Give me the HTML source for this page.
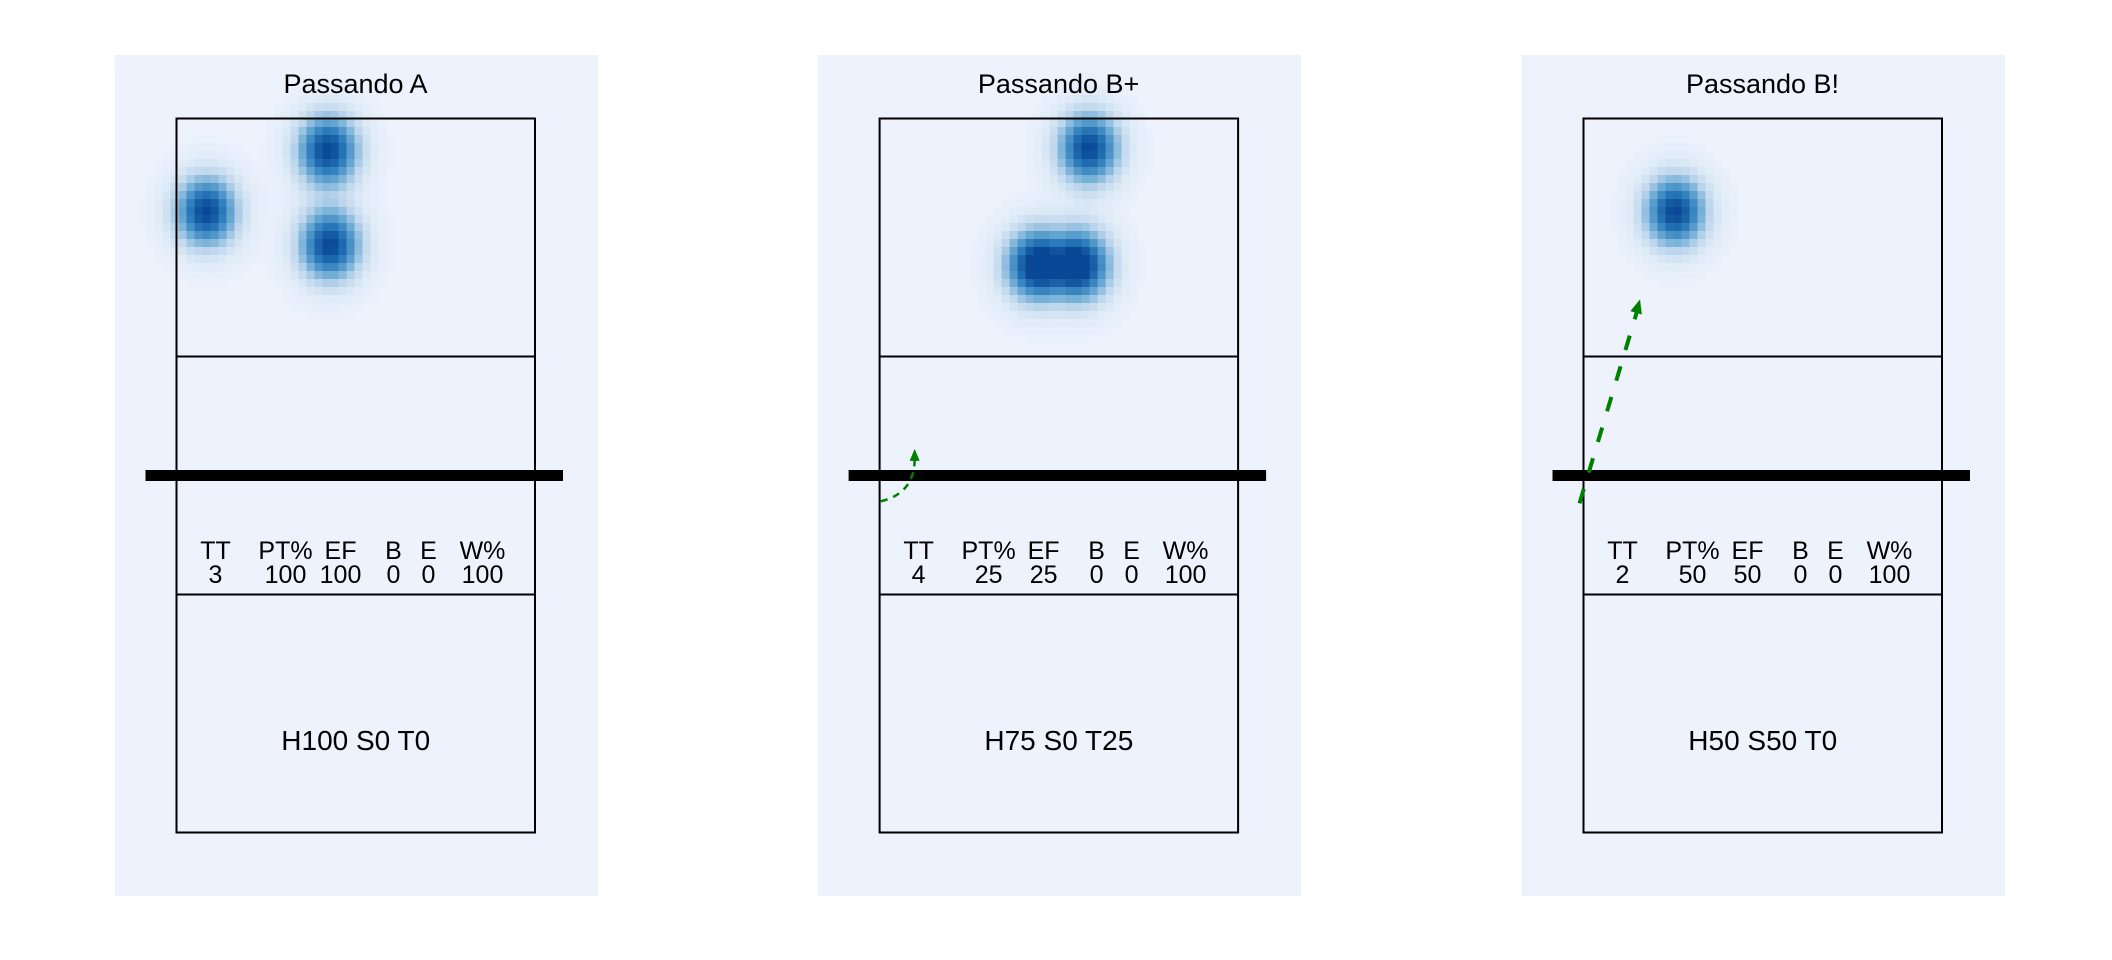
<!DOCTYPE html>
<html><head><meta charset="utf-8"><style>
html,body{margin:0;padding:0;background:#fff;width:2112px;height:960px;overflow:hidden}
svg{display:block}
text{font-family:"Liberation Sans",sans-serif;fill:#000}
</style></head><body>
<svg id="chart" width="2112" height="960" viewBox="0 0 2112 960" xmlns="http://www.w3.org/2000/svg"></svg>
<script>
// ---- data ----
const panelTitles = ["Passando A", "Passando B+", "Passando B!"];
const statLabels = ["TT", "PT%", "EF", "B", "E", "W%"];
const statValues = [[3,100,100,0,0,100],[4,25,25,0,0,100],[2,50,50,0,0,100]];
const footerLabels = ["H100 S0 T0", "H75 S0 T25", "H50 S50 T0"];
// blob centres in court metres (x across 0..9, y along 0..18 from top)
const blobX = [[0.75,3.8,3.85],[5.25,3.9,5.05],[2.3]];
const blobY = [[2.35,0.8,3.2],[0.75,3.7,3.7],[2.35]];
// arrows in court metres: start/end
const arrowStartX = [null, 0.03, -0.1];
const arrowStartY = [null, 9.65, 9.7];
const arrowEndX = [null, 0.88, 1.42];
const arrowEndY = [null, 8.33, 4.56];

// ---- layout ----
const svg = document.getElementById('chart');
const NS = 'http://www.w3.org/2000/svg';
const panelLeft = [114.5, 817.6, 1521.5];
const panelW = 483.5, panelTop = 55, panelH = 841;
const courtOffX = 62, courtTop = 118.5, courtW = 358.5, courtH = 714;
const colOff = [39, 109, 164, 217, 252, 306];
function sx(p, m){ return panelLeft[p] + courtOffX + m * courtW / 9; }
function sy(m){ return courtTop + m * courtH / 18; }
function el(tag, attrs, parent){ const e = document.createElementNS(NS, tag); for (const k in attrs) e.setAttribute(k, attrs[k]); (parent||svg).appendChild(e); return e; }

const stops = [[0,[238,242,253]],[0.2,[222,235,247]],[0.4,[190,214,236]],[0.6,[110,172,213]],[0.8,[45,125,188]],[1,[8,72,150]]];
function cmap(t){
  for (let i=1;i<stops.length;i++){ if (t<=stops[i][0]){ const a=stops[i-1], b=stops[i]; const f=(t-a[0])/(b[0]-a[0]); return a[1].map((v,j)=>Math.round(v+(b[1][j]-v)*f)); } }
  return stops[stops.length-1][1];
}

for (let p=0;p<3;p++){
  const g = el('g', {});
  
  
  const bg = el('rect', {x:panelLeft[p], y:panelTop, width:panelW, height:panelH, fill:'#eef2fd'}, g);
  
  
  const hm = el('g', {}, g);
  
  
  const cell = 8, sigX = 0.64, sigY = 0.74;
  const cx0 = panelLeft[p], cy0 = panelTop;
  for (let yy=cy0; yy<cy0+420; yy+=cell){
    for (let xx=cx0; xx<cx0+panelW; xx+=cell){
      const mx = (xx+cell/2 - panelLeft[p] - courtOffX) * 9 / courtW;
      const my = (yy+cell/2 - courtTop) * 18 / courtH;
      let d = 0, s = 0;
      for (let k=0;k<blobX[p].length;k++){
        const dx = (mx-blobX[p][k])/sigX, dy = (my-blobY[p][k])/sigY;
        const v = Math.exp(-0.5*(dx*dx+dy*dy));
        s += v; if (v > d) d = v;
      }
      d = d + 0.55*(s - d);
      if (d > 1) d = 1;
      if (d < 0.04) continue;
      const c = cmap(d);
      const r = el('rect', {x:xx, y:yy, width:cell+0.5, height:cell+0.5, fill:'rgb('+c.join(',')+')'}, hm);
      
      
    }
  }
  const t = el('text', {x:panelLeft[p]+241, y:93, 'font-size':27, 'text-anchor':'middle'}, g);
  t.textContent = panelTitles[p];
  
  
  const L = sx(p,0), R = sx(p,9);
  const court = el('rect', {x:L, y:sy(0), width:R-L, height:sy(18)-sy(0), fill:'none', stroke:'#000', 'stroke-width':2}, g);
  
  
  for (const m of [6,12]){
    const ln = el('line', {x1:L, x2:R, y1:sy(m), y2:sy(m), stroke:'#000', 'stroke-width':2}, g);
    
    
  }
  const net = el('line', {x1:L-31, x2:R+28, y1:sy(9), y2:sy(9), stroke:'#000', 'stroke-width':11}, g);
  
  
  for (let c=0;c<6;c++){
    const h = el('text', {x:L+colOff[c], y:559, 'font-size':25, 'text-anchor':'middle'}, g);
    h.textContent = statLabels[c];
    
    
    const v = el('text', {x:L+colOff[c], y:583, 'font-size':25, 'text-anchor':'middle'}, g);
    v.textContent = statValues[p][c];
    
    
  }
  const f = el('text', {x:(L+R)/2, y:750, 'font-size':28, 'text-anchor':'middle'}, g);
  f.textContent = footerLabels[p];
  
  
  if (arrowStartX[p] !== null){
    const x1=sx(p,arrowStartX[p]), y1=sy(arrowStartY[p]), x2=sx(p,arrowEndX[p]), y2=sy(arrowEndY[p]);
    const thin = p===1;
    const sw = thin ? 2.5 : 4;
    let d;
    if (thin) d = `M${x1},${y1} Q${x2},${y1-8} ${x2},${y2+10}`;
    else d = `M${x1},${y1} L${x2-(x2-x1)*0.05},${y2+12}`;
    const a = el('path', {d:d, fill:'none', stroke:'#008000', 'stroke-width':sw, 'stroke-dasharray': thin?'7 6':'15 17'}, g);
    
    
    const ang = thin ? -Math.PI/2 : Math.atan2(y2-y1, x2-x1);
    const s = thin ? 12 : 14, w = thin ? 5 : 6;
    const bx = x2 - s*Math.cos(ang), by = y2 - s*Math.sin(ang);
    const px = -Math.sin(ang)*w, py = Math.cos(ang)*w;
    const hd = el('polygon', {points:`${x2},${y2} ${bx+px},${by+py} ${bx-px},${by-py}`, fill:'#008000'}, g);
    
    
  }
}
</script>
</body></html>
